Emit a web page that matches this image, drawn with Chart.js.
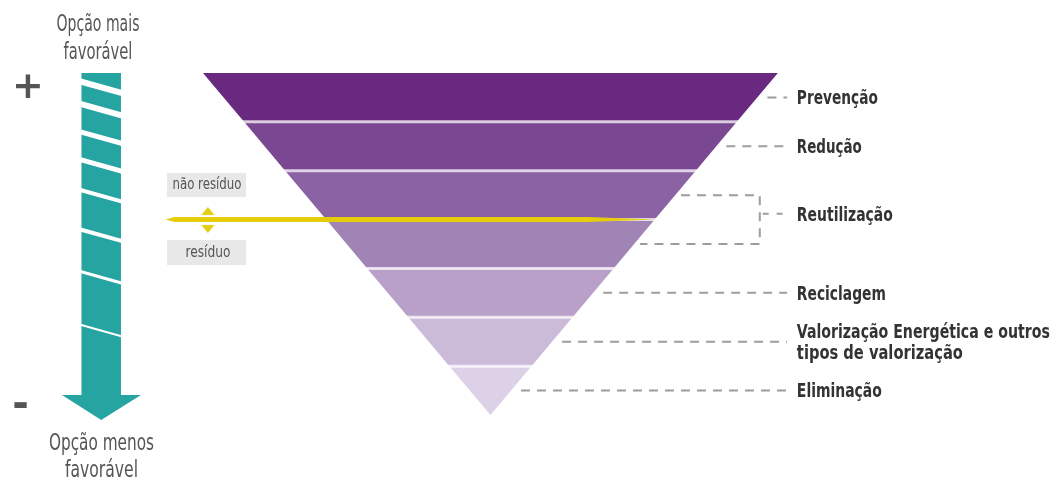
<!DOCTYPE html>
<html>
<head>
<meta charset="utf-8">
<script src="https://cdn.jsdelivr.net/npm/chart.js@4.4.1/dist/chart.umd.min.js"></script>
<style>
  html, body { margin: 0; padding: 0; background: #fff; }
  #wrap { width: 1053px; height: 481px; position: relative; }
</style>
</head>
<body>
<div id="wrap"><canvas id="pyramid"></canvas></div>
<script>
// Waste hierarchy, bands from the top (widest) down to the apex
const bandColors = ['#6a2981', '#7a4892', '#8b62a4', '#a084b6', '#b9a0c9', '#cbbbd9', '#ddd1e7'];
const tierLines = [
  ['Prevenção'],
  ['Redução'],
  ['Reutilização'],
  ['Reciclagem'],
  ['Valorização Energética e outros', 'tipos de valorização'],
  ['Eliminação']
];
const tierFrom = [0, 1, 2, 4, 5, 6];
const tierTo   = [1, 2, 4, 5, 6, 7];
const tierLabelWidths = [[81], [65], [96], [89], [253, 166], [85]];
const wasteLevel = 3; // boundary "não resíduo" / "resíduo"

// stripes on the "favourability" arrow (level where they cross the left edge)
const stripeLevels = [0.18, 0.64, 1.21, 1.78, 2.40, 3.21, 4.07, 5.16];
const stripeWidths = [6, 6, 5, 5, 4, 4, 3, 2];

const LEVELS = bandColors.length;
const halfW = lv => (LEVELS - lv) / LEVELS;
const LEADER_END = 1.032, BRACKET_X = 0.937, LABEL_X = 1.066;
const FONT = '"Liberation Sans Narrow", "DejaVu Sans Condensed", "DejaVu Sans", sans-serif';

function polygon(points, color, order) {
  return {
    data: points.concat([points[0]]).map(p => ({ x: p[0], y: p[1] })),
    backgroundColor: color, borderColor: 'rgba(0,0,0,0)', borderWidth: 0,
    fill: 'shape', pointRadius: 0, order
  };
}
function path(points, color, width, dash, order) {
  return {
    data: points.map(p => ({ x: p[0], y: p[1] })),
    borderColor: color, borderWidth: width, borderDash: dash || [],
    fill: false, pointRadius: 0, order
  };
}

const datasets = [];
const texts = [];

// pyramid bands + separators
bandColors.forEach((c, i) => {
  datasets.push(polygon([[-halfW(i), i], [halfW(i), i], [halfW(i + 1), i + 1], [-halfW(i + 1), i + 1]], c, 50));
});
for (let i = 1; i < LEVELS; i++) {
  datasets.push(path([[-halfW(i) - 0.01, i], [halfW(i) + 0.01, i]], 'rgba(255,255,255,0.72)', 3, [], 45));
}

// leader lines and labels
const leaderColor = '#9d9d9d';
tierLines.forEach((lines, k) => {
  const from = tierFrom[k], to = tierTo[k];
  let lv = (from + to) / 2;
  if (to - from > 1) {
    const top = from + 0.5, bot = to - 0.5;
    datasets.push(path([[halfW(top) + 0.02, top], [BRACKET_X, top], [BRACKET_X, bot], [halfW(bot) + 0.02, bot]], leaderColor, 2, [9, 7], 40));
    lv -= 0.12;
    datasets.push(path([[BRACKET_X + 0.01, lv], [LEADER_END, lv]], leaderColor, 2, [6, 8], 40));
  } else {
    datasets.push(path([[halfW(lv) + 0.035, lv], [LEADER_END, lv]], leaderColor, 2, [9, 7], 40));
  }
  lines.forEach((t, j) => {
    const dy = (j - (lines.length - 1) / 2) * 0.43 + 0.04;
    texts.push({ text: t, x: LABEL_X, y: lv + dy, font: 'bold 19px ' + FONT, color: '#333', align: 'left', base: 'middle', w: tierLabelWidths[k][j] });
  });
});

// favourability arrow
const teal = '#25a4a1';
datasets.push(polygon([[-1.4226, 0], [-1.2852, 0], [-1.2852, 6.591], [-1.2157, 6.591], [-1.3539, 7.102], [-1.4904, 6.591], [-1.4226, 6.591]], teal, 30));
const stripeSlope = 0.225 / 0.1374;
stripeLevels.forEach((s, i) => {
  const x0 = -1.445, x1 = -1.265;
  datasets.push(path([[x0, s + (x0 + 1.4226) * stripeSlope], [x1, s + (x1 + 1.4226) * stripeSlope]], '#fff', stripeWidths[i], [], 29));
});

// "não resíduo" / "resíduo" boxes
datasets.push(polygon([[-1.1252, 2.047], [-0.8504, 2.047], [-0.8504, 2.538], [-1.1252, 2.538]], '#e8e8e8', 28));
datasets.push(polygon([[-1.1252, 3.418], [-0.8504, 3.418], [-0.8504, 3.93], [-1.1252, 3.93]], '#e8e8e8', 28));

// yellow waste line, tapering into the pyramid edge
const yellow = '#e5cd0c';
const h = 0.05;
datasets.push(polygon([[-1.13, wasteLevel], [-1.10, wasteLevel - h], [0.34, wasteLevel - h], [halfW(wasteLevel), wasteLevel], [0.34, wasteLevel + h], [-1.10, wasteLevel + h]], yellow, 27));
datasets.push(polygon([[-0.9826, 2.743], [-0.9600, 2.907], [-1.0052, 2.907]], yellow, 26));
datasets.push(polygon([[-1.0052, 3.111], [-0.9600, 3.111], [-0.9826, 3.275]], yellow, 26));

// other text
texts.push({ text: 'não resíduo', x: -0.9861, y: 2.29, font: '15px ' + FONT, color: '#555', align: 'center', base: 'middle', w: 69 });
texts.push({ text: 'resíduo', x: -0.9826, y: 3.68, font: '15px ' + FONT, color: '#555', align: 'center', base: 'middle', w: 45 });
texts.push({ text: 'Opção mais', x: -1.3652, y: -0.8494, font: '23px ' + FONT, color: '#555', align: 'center', base: 'alphabetic', w: 83 });
texts.push({ text: 'favorável', x: -1.3652, y: -0.2866, font: '23px ' + FONT, color: '#555', align: 'center', base: 'alphabetic', w: 69 });
texts.push({ text: 'Opção menos', x: -1.353, y: 7.7164, font: '23px ' + FONT, color: '#555', align: 'center', base: 'alphabetic', w: 105 });
texts.push({ text: 'favorável', x: -1.353, y: 8.269, font: '23px ' + FONT, color: '#555', align: 'center', base: 'alphabetic', w: 73 });
texts.push({ text: '+', x: -1.6087, y: 0.307, font: 'bold 38px "DejaVu Sans", sans-serif', color: '#555', align: 'center', base: 'middle' });
texts.push({ text: '-', x: -1.6348, y: 6.836, font: 'bold 40px "DejaVu Sans", sans-serif', color: '#555', align: 'center', base: 'middle' });

const textPlugin = {
  id: 'pyramidText',
  afterDatasetsDraw(chart) {
    const { ctx, scales: { x, y } } = chart;
    ctx.save();
    texts.forEach(t => {
      ctx.font = t.font;
      ctx.fillStyle = t.color;
      ctx.textAlign = t.align;
      ctx.textBaseline = t.base;
      const px = x.getPixelForValue(t.x), py = y.getPixelForValue(t.y);
      if (t.w) ctx.fillText(t.text, px, py, t.w);
      else ctx.fillText(t.text, px, py);
    });
    ctx.restore();
  }
};

new Chart(document.getElementById('pyramid'), {
  type: 'line',
  data: { datasets },
  options: {
    responsive: true,
    maintainAspectRatio: false,
    animation: false,
    events: [],
    layout: { padding: 0 },
    plugins: { legend: { display: false }, tooltip: { enabled: false } },
    scales: {
      x: { type: 'linear', min: -1.706, max: 1.957, bounds: 'data', display: false },
      y: { type: 'linear', min: -1.494, max: 8.351, bounds: 'data', reverse: true, display: false }
    }
  },
  plugins: [textPlugin]
});
</script>
</body>
</html>
